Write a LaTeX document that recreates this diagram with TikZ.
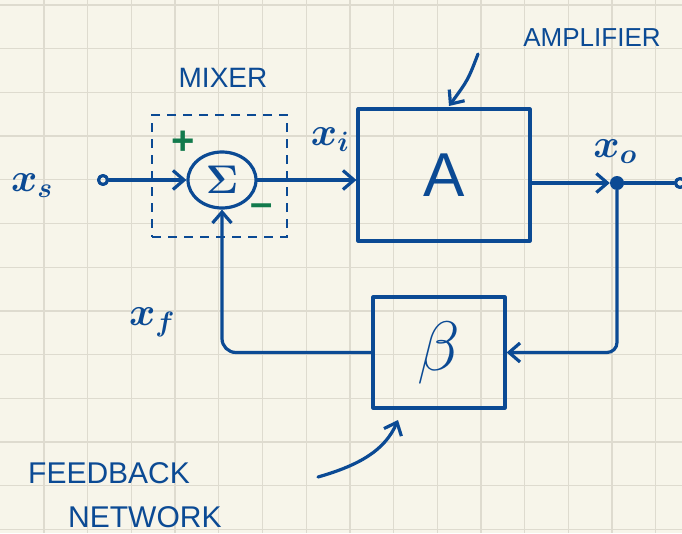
\RequirePackage{fix-cm}
\documentclass[tikz,border=0pt]{standalone}
\usepackage{fontspec}
\setsansfont{Liberation Sans}
\usetikzlibrary{arrows.meta,shapes.geometric}
\definecolor{paper}{HTML}{F7F5EA}
\definecolor{gridline}{HTML}{DEDBCF}
\definecolor{ink}{HTML}{0B4A94}
\definecolor{signgreen}{HTML}{127A4C}
\begin{document}
\begin{tikzpicture}[x=1pt,y=-1pt,
  pen/.style={draw=ink,line width=3.2pt,line cap=round,line join=round},
  arr/.style={pen,-{Straight Barb[length=11pt,width=19pt,line width=3.2pt]}},
  block/.style={pen,rectangle,inner sep=0pt},
  term/.style={pen,circle,inner sep=0pt,minimum size=9pt},
  lab/.style={text=ink,inner sep=0pt},
  sym/.style={lab,font=\boldmath\fontsize{#1}{#1}\selectfont},
  caps/.style={lab,font=\sffamily\fontsize{#1}{#1}\selectfont},
  sign/.style={text=signgreen,inner sep=0pt,font=\sffamily\bfseries\fontsize{#1}{#1}\selectfont}]
% paper and grid
\fill[paper] (0,0) rectangle (682,533);
\useasboundingbox (0,0) rectangle (682,533);
\foreach \k in {0,...,14} \draw[gridline,line width=1.3pt] ({44+43.7*\k},0) -- ({44+43.7*\k},533);
\foreach \k in {0,...,12} \draw[gridline,line width=1.3pt] (0,{5+43.7*\k}) -- (682,{5+43.7*\k});

% mixer
\node[draw=ink,dashed,dash pattern=on 9pt off 7pt,line width=1.5pt,
      minimum width=135pt,minimum height=122pt] (mixbox) at (219.5,176) {};
\node[pen,ellipse,minimum width=68pt,minimum height=56pt,inner sep=0pt,
      text=ink,font=\boldmath\fontsize{40}{40}\selectfont] (sum) at (222,180) {$\Sigma$};
\node[sign=40] (plus) at (183,143) {+};
\node[sign=40] (minus) at (262,210) {\textendash};
\node[caps=28] (mixlab) at (223,78) {MIXER};

% input
\node[term] (in) at (103,180) {};
\node[sym=40] (xs) at (32,186) {$x_{s}$};

% amplifier
\node[block,minimum width=172pt,minimum height=132pt,text=ink,
      font=\sffamily\fontsize{62}{62}\selectfont] (A) at (444,175) {A};
\node[caps=26] (amplab) at (592,38) {AMPLIFIER};
\coordinate (ampfrom) at (478,54);
\coordinate (ampto) at (449,106);
\node[sym=40] (xi) at (330,140) {$x_{i}$};

% output node
\node[circle,fill=ink,minimum size=14pt,inner sep=0pt] (out) at (617,183) {};
\node[term] (outterm) at (680,183) {};
\node[sym=40] (xo) at (615,152) {$x_{o}$};

% feedback network
\node[block,minimum width=132pt,minimum height=111pt,text=ink,
      font=\fontsize{70}{70}\selectfont] (B) at (439,352.5) {$\beta$};
\node[sym=40] (xf) at (152,322) {$x_{f}$};
\node[caps=30,anchor=west] (fb1) at (28,473) {FEEDBACK};
\node[caps=30,anchor=west] (fb2) at (68,517) {NETWORK};
\coordinate (fbfrom) at (318,477);
\coordinate (fbto) at (398,420);

% signal path
\draw[arr] (in) -- (sum);
\draw[arr] (sum.east) -- (sum.east -| A.west);
\draw[arr] (A.east |- out) -- (out);
\draw[pen] (out) -- (outterm);
\draw[arr,rounded corners=10pt] (out) |- (B.east);
\draw[arr,rounded corners=14pt] (B.west) -| (sum.south);

% pointers to the labelled blocks
\draw[arr] (ampfrom) .. controls (468,80) .. (ampto);
\draw[arr] (fbfrom) .. controls (360,465) and (385,450) .. (fbto);
\end{tikzpicture}
\end{document}
